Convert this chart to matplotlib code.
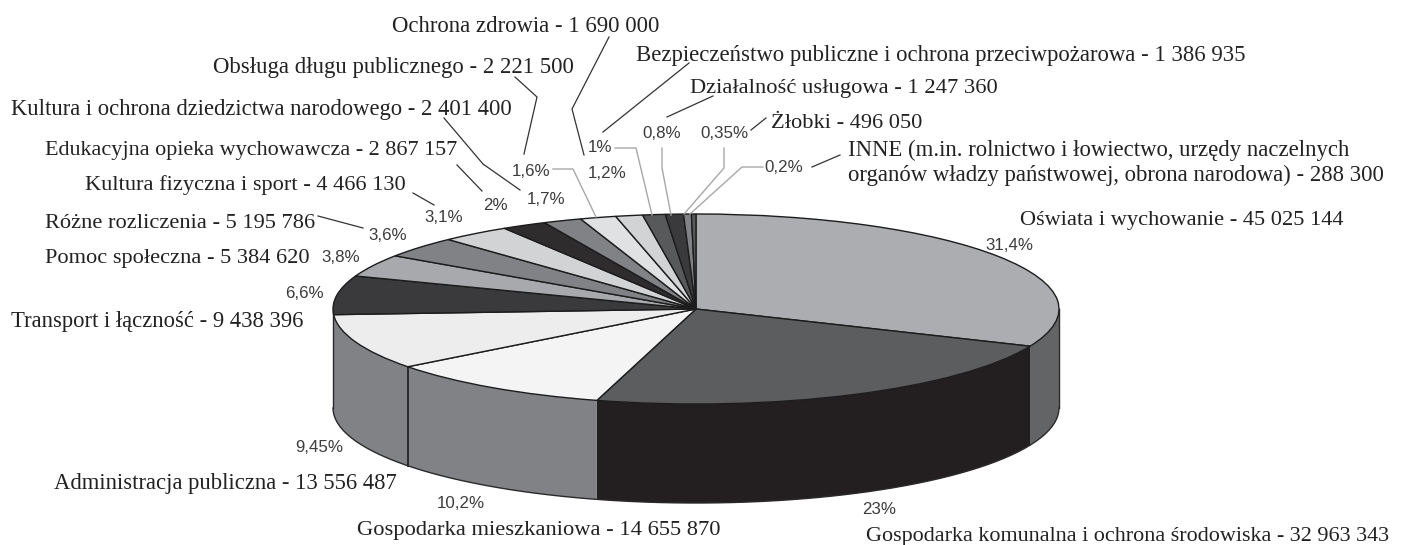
import numpy as np
import matplotlib
matplotlib.use("Agg")
import matplotlib.pyplot as plt
from matplotlib.patches import Wedge, Polygon
from matplotlib.transforms import Affine2D

# Data, clockwise from 12 o'clock
names = ["Oświata i wychowanie", "Gospodarka komunalna i ochrona środowiska",
         "Gospodarka mieszkaniowa", "Administracja publiczna", "Transport i łączność",
         "Pomoc społeczna", "Różne rozliczenia", "Kultura fizyczna i sport",
         "Edukacyjna opieka wychowawcza", "Kultura i ochrona dziedzictwa narodowego",
         "Obsługa długu publicznego", "Ochrona zdrowia",
         "Bezpieczeństwo publiczne i ochrona przeciwpożarowa", "Działalność usługowa",
         "Żłobki", "INNE"]
amounts = ["45 025 144", "32 963 343", "14 655 870", "13 556 487", "9 438 396",
           "5 384 620", "5 195 786", "4 466 130", "2 867 157", "2 401 400",
           "2 221 500", "1 690 000", "1 386 935", "1 247 360", "496 050", "288 300"]
shares = [31.4, 23, 10.2, 9.45, 6.6, 3.8, 3.6, 3.1, 2, 1.7, 1.6, 1.2, 1, 0.8, 0.35, 0.2]
share_labels = ["31,4%", "23%", "10,2%", "9,45%", "6,6%", "3,8%", "3,6%", "3,1%",
                "2%", "1,7%", "1,6%", "1,2%", "1%", "0,8%", "0,35%", "0,2%"]

top_colors = ["#abadb0", "#5b5d5f", "#f4f4f4", "#ecedec", "#3a3a3c", "#a7a9ac", "#808285",
              "#d1d3d4", "#2e2c2d", "#808285", "#e0e1e3", "#d1d3d4", "#58595b", "#3a3a3c",
              "#808285", "#58595b"]
side_colors = ["#636466", "#231f20", "#808285", "#808285"]

# Layout, in pixels of the picture
cx, cy, rx, ry, depth = 696, 309, 363, 95, 99

label_pos = [(1020, 220), (866, 536), (357, 531), (54, 483), (11, 321), (45, 259), (45, 224),
             (85, 185), (45, 151), (11, 109), (213, 67), (392, 26), (636, 56), (690, 89),
             (771, 123), (848, 152)]
label_sizes = [16.1, 15.9, 16.2, 16.25, 16.3, 16.15, 16.15, 16.15, 15.95, 16.25, 16.4, 16.4,
               16.35, 16.2, 16.1, 16.4]
share_pos = [(1009, 246), (879, 510), (461, 504), (319, 448), (304, 294), (341, 258),
             (388, 235), (444, 218), (495, 206), (546, 200), (531, 171), (607, 173),
             (600, 148), (662, 134), (724, 134), (784, 168)]

dark_leaders = [[(318, 216), (363, 228)], [(413, 193), (434, 205)],
                [(457, 165), (482, 191)], [(444, 118), (483, 164), (520, 190)],
                [(515, 77), (537, 97), (524, 154)], [(609, 37), (572, 109), (584, 155)],
                [(689, 63), (603, 132)], [(713, 96), (667, 117)],
                [(766, 118), (751, 130)], [(840, 155), (812, 167)]]
gray_leaders = [[(553, 169), (573, 169), (596, 217)], [(615, 148), (636, 148), (652, 215)],
                [(662, 148), (662, 168), (671, 215)], [(724, 148), (724, 168), (684, 214)],
                [(763, 167), (742, 167), (690, 214)]]

fig = plt.figure(figsize=(14.05, 5.45), dpi=100)
ax = fig.add_axes([0, 0, 1, 1])
ax.set_xlim(0, 1405)
ax.set_ylim(545, 0)
ax.axis("off")

ends = 90 - np.cumsum(shares) * 3.6
starts = np.concatenate(([90], ends[:-1]))


def rim(a, b, off=0):
    t = np.radians(np.linspace(a, b, 80))
    return np.column_stack((cx + rx * np.cos(t), cy - ry * np.sin(t) + off))


# side wall, only the front half shows
for i, c in enumerate(side_colors):
    a, b = starts[i], ends[i]
    if i == 0:
        a = 0
    if i == 3:
        b = -180
    pts = np.vstack((rim(a, b), rim(b, a, depth)))
    ax.add_patch(Polygon(pts, closed=True, fc=c, ec="none", zorder=2))

low = rim(0, -180, depth)
ax.plot(low[:, 0], low[:, 1], color="#2a2a2a", lw=1, zorder=2.5)
for ang, w in [(0, 1), (ends[2], 1.4), (-180, 1)]:
    p = rim(ang, ang)[0]
    ax.plot([p[0], p[0]], [p[1], p[1] + depth], color="#2a2a2a", lw=w, zorder=2.5)

# top of the cake
ellipse = Affine2D().scale(rx, -ry).translate(cx, cy) + ax.transData
for i in range(len(shares)):
    ax.add_patch(Wedge((0, 0), 1, ends[i], starts[i], fc=top_colors[i], ec="#1c1c1c",
                       lw=1, transform=ellipse, zorder=3))

# leader lines
for line in dark_leaders:
    xs, ys = zip(*line)
    ax.plot(xs, ys, color="#333333", lw=0.9, zorder=4)
for line in gray_leaders:
    xs, ys = zip(*line)
    ax.plot(xs, ys, color="#a8a8a8", lw=1.0, zorder=4)

# labels
for i, name in enumerate(names):
    txt = name + " - " + amounts[i]
    if name == "INNE":
        txt = ("INNE (m.in. rolnictwo i łowiectwo, urzędy naczelnych\n"
               "organów władzy państwowej, obrona narodowa) - " + amounts[i])
        ax.text(label_pos[i][0], label_pos[i][1] - 12, txt, family="Liberation Serif",
                fontsize=label_sizes[i], color="#222222", ha="left", va="top", linespacing=1.24)
    else:
        ax.text(label_pos[i][0], label_pos[i][1], txt, family="Liberation Serif",
                fontsize=label_sizes[i], color="#222222", ha="left", va="center")
    ax.text(share_pos[i][0], share_pos[i][1], share_labels[i], family="Liberation Sans",
            fontsize=12.2, color="#3c3c3c", ha="center", va="center")

fig.savefig("out.png", dpi=100)
